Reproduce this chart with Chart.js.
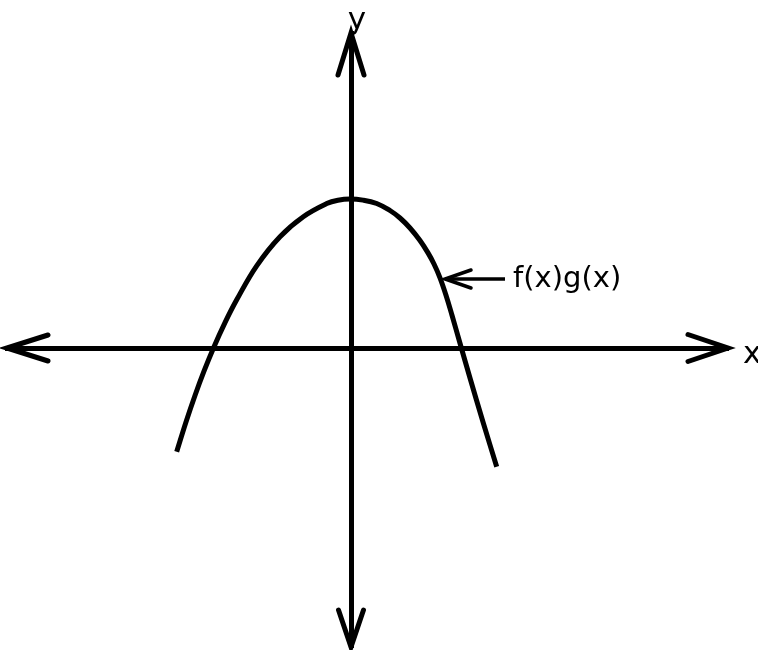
<!DOCTYPE html>
<html>
<head>
<meta charset="utf-8">
<script src="https://cdn.jsdelivr.net/npm/chart.js@4.4.1/dist/chart.umd.min.js"></script>
<style>
    html, body { margin: 0; padding: 0; background: #ffffff; }
</style>
</head>
<body>
<canvas id="product_chart" width="758" height="650"></canvas>
<script>
// curve f(x)g(x)
const curve_x = [-3.486, -3.30, -3.12, -2.94, -2.75, -2.52, -2.286, -1.886, -1.42, -0.954, -0.486, -0.26, -0.02,
                 0.24, 0.514, 0.78, 0.98, 1.18, 1.38, 1.54, 1.66, 1.78, 1.90, 2.02, 2.19, 2.38, 2.64, 2.914];
const curve_y = [-2.074, -1.48, -0.95, -0.464, 0.002, 0.508, 0.964, 1.644, 2.226, 2.626, 2.888, 2.956, 2.98,
                 2.958, 2.89, 2.75, 2.60, 2.40, 2.15, 1.902, 1.68, 1.404, 1.056, 0.654, 0.06, -0.60, -1.48, -2.374];

// axis ranges (the arrows end at these values)
const x_range = [-6.88, 7.54];
const y_range = [-5.98, 6.3];

// label with its little pointer arrow
const curve_label = 'f(x)g(x)';
const pointer_x = [1.88, 3.08];
const pointer_y = [1.38, 1.38];

const axis_names = ['x', 'y'];

// build {x, y} points from two arrays
function toPoints(xs, ys) {
    let points = [];
    for (let i = 0; i < xs.length; i++) {
        points.push({ x: xs[i], y: ys[i] });
    }
    return points;
}

// draw one arrow head: tip and the two arm ends
function drawHead(ctx, tx, ty, ax1, ay1, ax2, ay2, width) {
    ctx.beginPath();
    ctx.lineWidth = width;
    ctx.moveTo(ax1, ay1);
    ctx.lineTo(tx, ty);
    ctx.lineTo(ax2, ay2);
    ctx.stroke();
}

// arrow heads and texts
const arrowPlugin = {
    id: 'arrowPlugin',
    afterDraw(chart) {
        const ctx = chart.ctx;
        const area = chart.chartArea;
        const xs = chart.scales.x;
        const ys = chart.scales.y;
        const ox = xs.getPixelForValue(0);
        const oy = ys.getPixelForValue(0);
        ctx.save();
        ctx.strokeStyle = '#000';
        ctx.lineCap = 'round';
        ctx.lineJoin = 'miter';
        // axis arrows
        drawHead(ctx, area.left, oy, area.left + 41, oy - 13, area.left + 41, oy + 13, 5);
        drawHead(ctx, area.right, oy, area.right - 40, oy - 13.5, area.right - 40, oy + 13.5, 5);
        drawHead(ctx, ox, area.top, ox - 13, area.top + 42, ox + 13, area.top + 42, 5);
        drawHead(ctx, ox, area.bottom, ox - 12.5, area.bottom - 37, ox + 12.5, area.bottom - 37, 5);
        // pointer arrow
        const px = xs.getPixelForValue(pointer_x[0]);
        const py = ys.getPixelForValue(pointer_y[0]);
        drawHead(ctx, px, py, px + 26, py - 9, px + 26, py + 9, 3.5);
        // texts
        ctx.fillStyle = '#000';
        ctx.textBaseline = 'alphabetic';
        ctx.font = '29px "DejaVu Sans"';
        ctx.textAlign = 'left';
        ctx.fillText(curve_label, xs.getPixelForValue(pointer_x[1]) + 8, py + 8);
        ctx.font = '31px "DejaVu Sans"';
        ctx.fillText(axis_names[0], area.right + 15, oy + 15);
        ctx.textAlign = 'center';
        ctx.fillText(axis_names[1], ox + 6, area.top - 4);
        ctx.restore();
    }
};

// axis settings shared by x and y
function axisOptions(range, position) {
    return {
        type: 'linear',
        min: range[0],
        max: range[1],
        position: position,
        grid: { drawOnChartArea: false, drawTicks: false },
        ticks: { display: false },
        border: { display: true, color: '#000', width: 5 }
    };
}

function createChart() {
    const ctx = document.getElementById('product_chart').getContext('2d');
    new Chart(ctx, {
        type: 'line',
        data: {
            datasets: [
                {
                    data: toPoints(curve_x, curve_y),
                    borderColor: '#000',
                    borderWidth: 5,
                    pointRadius: 0,
                    tension: 0.4,
                    fill: false
                },
                {
                    data: toPoints(pointer_x, pointer_y),
                    borderColor: '#000',
                    borderWidth: 3.5,
                    pointRadius: 0,
                    fill: false
                }
            ]
        },
        options: {
            responsive: false,
            animation: false,
            layout: { padding: { left: 7, right: 30, top: 33, bottom: 3 } },
            scales: {
                x: axisOptions(x_range, { y: 0 }),
                y: axisOptions(y_range, { x: 0 })
            },
            plugins: {
                legend: { display: false },
                tooltip: { enabled: false }
            }
        },
        plugins: [arrowPlugin]
    });
}

createChart();
</script>
</body>
</html>
